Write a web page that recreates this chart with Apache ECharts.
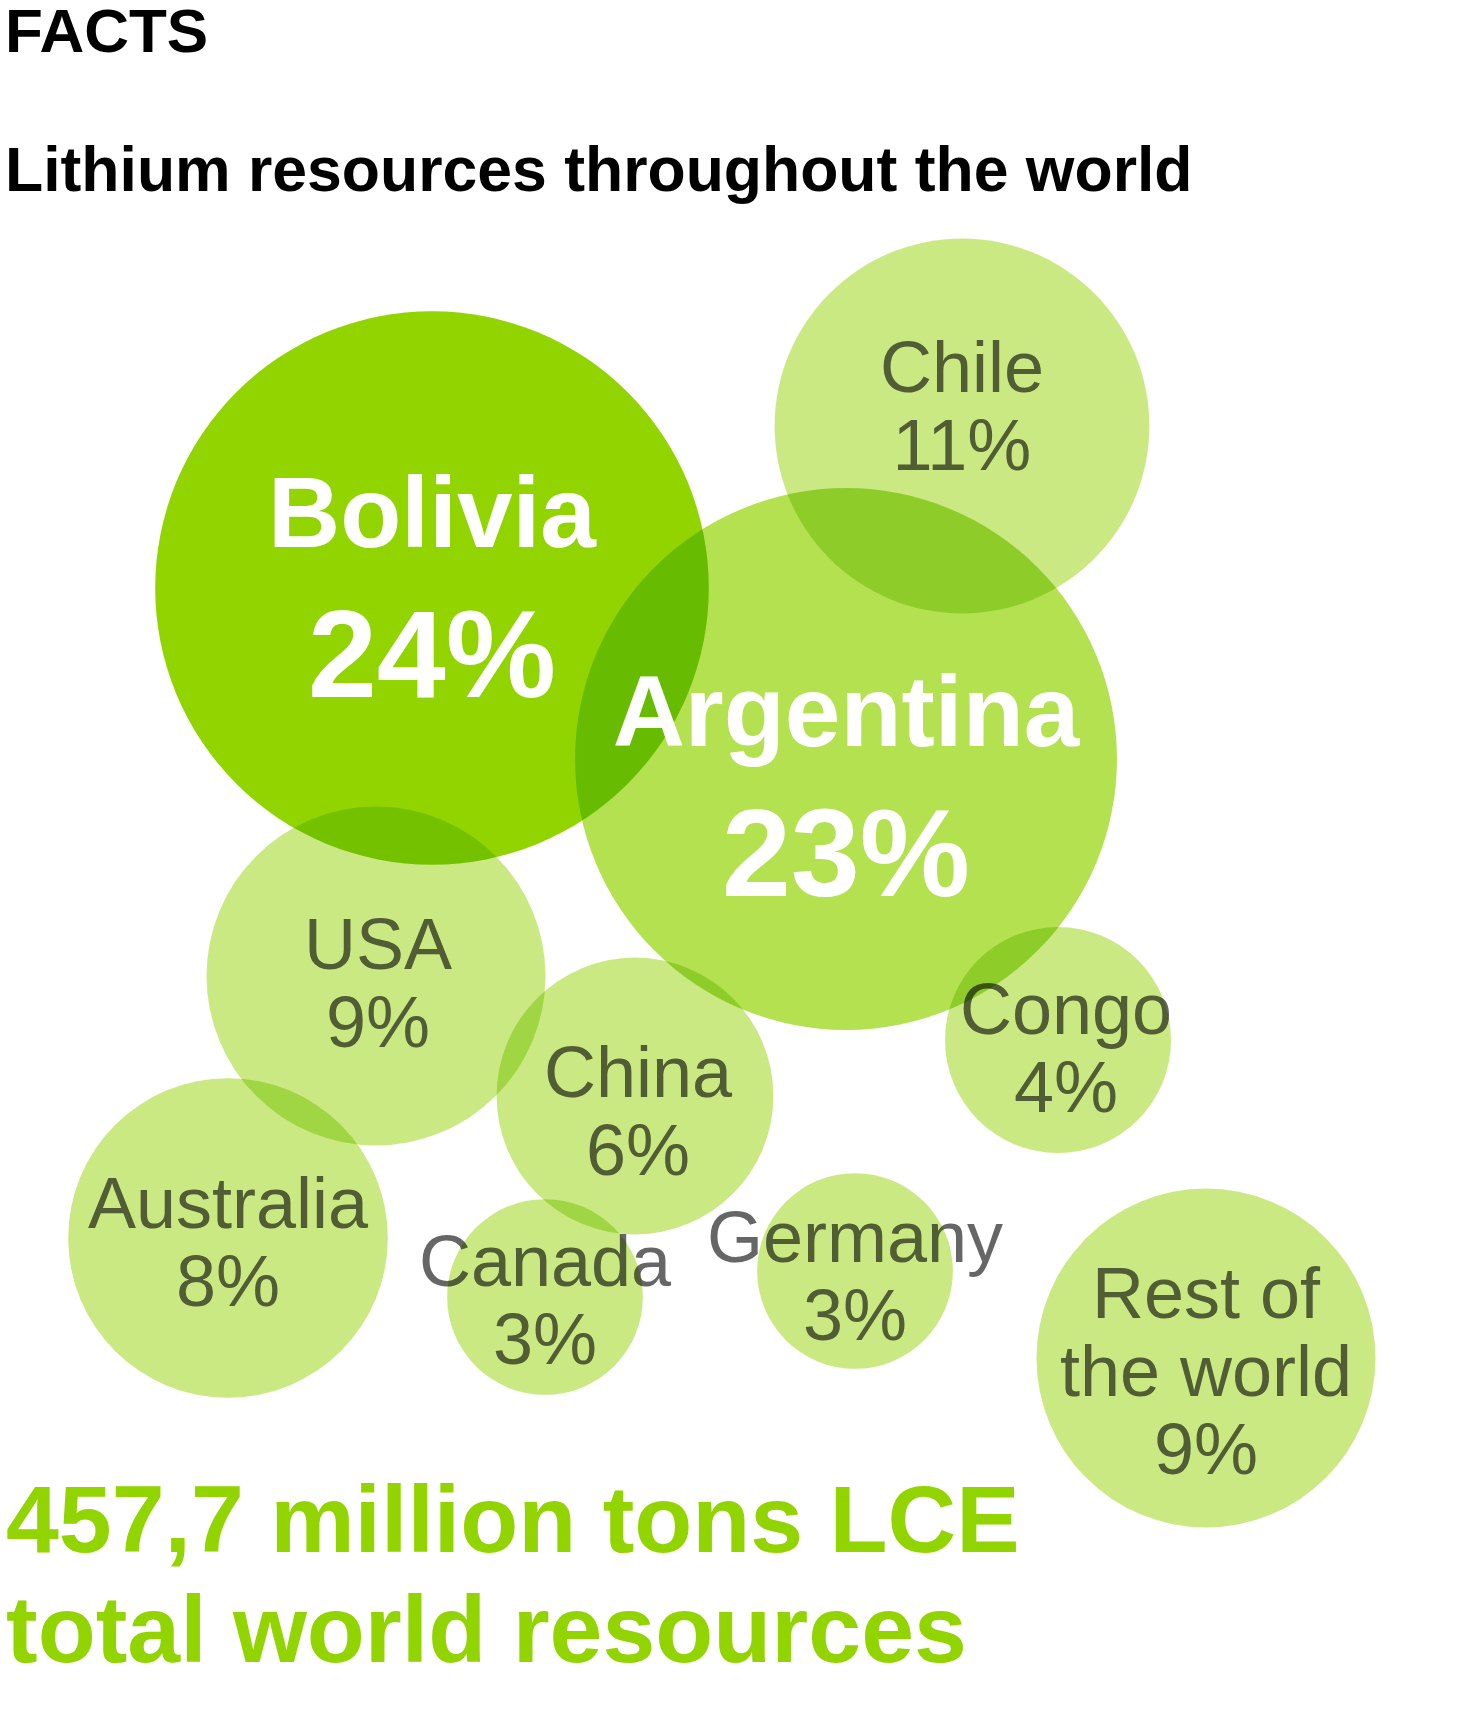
<!DOCTYPE html>
<html>
<head>
<meta charset="utf-8">
<script src="https://cdn.jsdelivr.net/npm/echarts@6/dist/echarts.min.js"></script>
<style>
html,body{margin:0;padding:0;background:#fff;}
#chart{width:1459px;height:1734px;}
</style>
</head>
<body>
<div id="chart"></div>
<script>
// ---- data ----
const countries = ['Bolivia', 'Argentina', 'Chile', 'USA', 'China', 'Congo', 'Australia', 'Canada', 'Germany', 'Rest of\nthe world'];
const shares = [24, 23, 11, 9, 6, 4, 8, 3, 3, 9];
// bubble layout (free-form bubble placement, in layout units)
const layoutX = [432, 846, 962, 376, 635, 1058, 228, 545, 855, 1206];
const layoutY = [588, 759, 426, 976, 1096, 1040, 1238, 1297, 1271, 1358];
const headline = 'FACTS';
const subtitle = 'Lithium resources throughout the world';
const totalText = '457,7 million tons LCE\ntotal world resources';

// ---- styling ----
const FONT = "'Liberation Sans', Arial, Helvetica, sans-serif";
const majorIdx = [0, 1];
const bubbleColors = ['#92D400', '#B3E150'];
const minorColor = '#CAE982';
const labelOffsets = {
  0: [0, 10], 1: [0, 38], 2: [0, -15], 3: [2, 12], 4: [3, 20], 5: [8, 13],
  6: [0, 9], 7: [0, 8], 8: [0, 10], 9: [0, 18]
};
const sizeOf = v => 113 * Math.sqrt(v);

const bubbleData = shares.map((v, i) => ({
  value: [layoutX[i], layoutY[i], v],
  name: countries[i],
  itemStyle: { color: i < bubbleColors.length ? bubbleColors[i] : minorColor, opacity: 1 }
}));

const grayLabelData = shares.map((v, i) => ({ value: [layoutX[i], layoutY[i], v], name: countries[i], i }))
  .filter(d => majorIdx.indexOf(d.i) < 0)
  .map(d => ({
    value: d.value, name: d.name,
    label: { offset: labelOffsets[d.i] }
  }));

const whiteLabelData = majorIdx.map(i => ({
  value: [layoutX[i], layoutY[i], shares[i]], name: countries[i],
  label: { offset: labelOffsets[i] }
}));

const chart = echarts.init(document.getElementById('chart'), null, { renderer: 'canvas' });
chart.setOption({
  backgroundColor: '#ffffff',
  animation: false,
  title: [
    { text: headline, left: 5, top: 4, padding: 0,
      textStyle: { fontFamily: FONT, fontSize: 62, fontWeight: 'bold', color: '#000', lineHeight: 62 } },
    { text: subtitle, left: 5, top: 142, padding: 0,
      textStyle: { fontFamily: FONT, fontSize: 62.5, fontWeight: 'bold', color: '#000', lineHeight: 63 } },
    { text: totalText, left: 6, top: 1471, padding: 0,
      textStyle: { fontFamily: FONT, fontSize: 95, fontWeight: 'bold', color: '#92D400', lineHeight: 110 } }
  ],
  grid: { left: 0, right: 0, top: 0, bottom: 0 },
  xAxis: { type: 'value', min: 0, max: 1459, show: false },
  yAxis: { type: 'value', min: 0, max: 1734, inverse: true, show: false },
  series: [
    {
      // grey labels beneath the bubbles (bubbles multiply over them)
      type: 'scatter', z: 1, silent: true,
      symbolSize: 1,
      itemStyle: { color: 'rgba(0,0,0,0)', opacity: 1 },
      data: grayLabelData,
      label: {
        show: true, position: 'inside',
        formatter: p => p.name + '\n' + p.value[2] + '%',
        fontFamily: FONT, fontSize: 72, lineHeight: 78, color: '#666666', align: 'center'
      },
      emphasis: { disabled: true }
    },
    {
      type: 'scatter', z: 2, silent: true,
      blendMode: 'multiply',
      symbol: 'circle',
      symbolSize: v => sizeOf(v[2]),
      itemStyle: { opacity: 1 },
      data: bubbleData,
      label: { show: false },
      emphasis: { disabled: true }
    },
    {
      type: 'scatter', z: 3, silent: true,
      symbolSize: 1,
      itemStyle: { color: 'rgba(0,0,0,0)', opacity: 1 },
      data: whiteLabelData,
      label: {
        show: true, position: 'inside',
        formatter: p => '{a|' + p.name + '}\n{b|' + p.value[2] + '%}',
        rich: {
          a: { fontFamily: FONT, fontSize: 100, fontWeight: 'bold', color: '#ffffff', lineHeight: 130, align: 'center' },
          b: { fontFamily: FONT, fontSize: 124, fontWeight: 'bold', color: '#ffffff', lineHeight: 158, align: 'center' }
        }
      },
      emphasis: { disabled: true }
    }
  ]
});
</script>
</body>
</html>
